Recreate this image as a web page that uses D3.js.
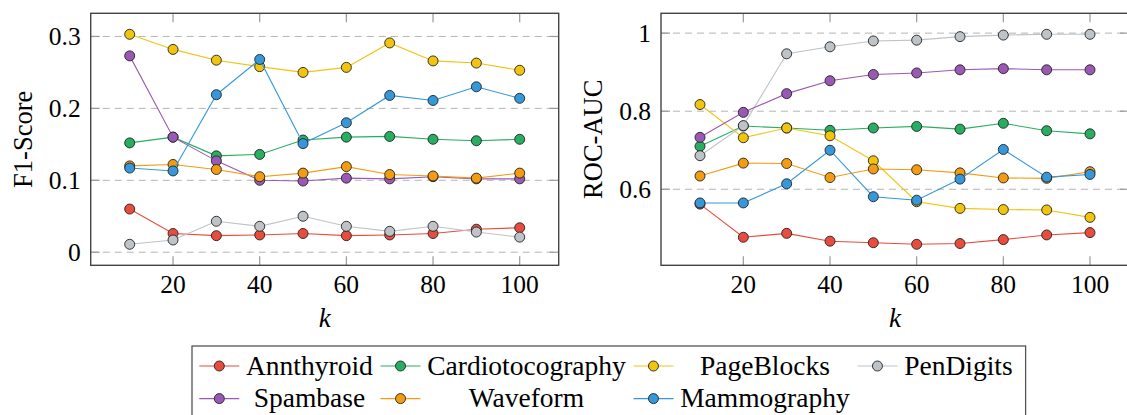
<!DOCTYPE html>
<html>
<head>
<meta charset="utf-8">
<script src="https://cdn.jsdelivr.net/npm/d3@7"></script>
<style>
  body { margin: 0; background: #fff; }
  svg { display: block; }
</style>
</head>
<body>
<div id="chart"></div>
<script>
// k values on the x axis
const kValues = [10, 20, 30, 40, 50, 60, 70, 80, 90, 100];
const xTicks = [20, 40, 60, 80, 100];
const f1Ticks = [0, 0.1, 0.2, 0.3];
const rocTicks = [0.6, 0.8, 1];

const datasets = ["Annthyroid", "Cardiotocography", "PageBlocks", "PenDigits", "Spambase", "Waveform", "Mammography"];
const colors = ["#e74c3c", "#27ae60", "#f1c40f", "#bdc3c7", "#9b59b6", "#f39c12", "#3498db"];

// F1-Score
const f1Annthyroid = [0.060, 0.026, 0.023, 0.024, 0.026, 0.023, 0.024, 0.026, 0.032, 0.034];
const f1Cardio = [0.152, 0.160, 0.134, 0.136, 0.156, 0.160, 0.161, 0.157, 0.155, 0.157];
const f1PageBlocks = [0.303, 0.282, 0.267, 0.258, 0.250, 0.257, 0.291, 0.266, 0.263, 0.253];
const f1PenDigits = [0.011, 0.017, 0.043, 0.036, 0.050, 0.036, 0.029, 0.036, 0.028, 0.021];
const f1Spambase = [0.273, 0.160, 0.127, 0.100, 0.099, 0.103, 0.102, 0.105, 0.102, 0.102];
const f1Waveform = [0.120, 0.122, 0.115, 0.105, 0.110, 0.119, 0.108, 0.106, 0.103, 0.110];
const f1Mammography = [0.117, 0.113, 0.219, 0.268, 0.151, 0.180, 0.218, 0.211, 0.230, 0.214];

// ROC-AUC
const rocAnnthyroid = [0.562, 0.477, 0.487, 0.467, 0.463, 0.459, 0.461, 0.471, 0.483, 0.489];
const rocCardio = [0.710, 0.762, 0.757, 0.751, 0.757, 0.761, 0.754, 0.769, 0.750, 0.742];
const rocPageBlocks = [0.817, 0.732, 0.757, 0.737, 0.673, 0.568, 0.551, 0.548, 0.547, 0.528];
const rocPenDigits = [0.686, 0.763, 0.947, 0.965, 0.980, 0.982, 0.991, 0.995, 0.997, 0.997];
const rocSpambase = [0.733, 0.797, 0.845, 0.878, 0.894, 0.898, 0.906, 0.909, 0.906, 0.906];
const rocWaveform = [0.634, 0.667, 0.666, 0.630, 0.652, 0.650, 0.642, 0.629, 0.628, 0.645];
const rocMammography = [0.565, 0.565, 0.614, 0.700, 0.581, 0.572, 0.626, 0.702, 0.631, 0.638];

const f1Series = [f1Annthyroid, f1Cardio, f1PageBlocks, f1PenDigits, f1Spambase, f1Waveform, f1Mammography];
const rocSeries = [rocAnnthyroid, rocCardio, rocPageBlocks, rocPenDigits, rocSpambase, rocWaveform, rocMammography];

const width = 1127, height = 415;
const fontFamily = '"Liberation Serif", "Tinos", "Times New Roman"';
const svg = d3.select("#chart").append("svg")
    .attr("width", width)
    .attr("height", height)
    .style("font-family", fontFamily);

// pgfplots style: 10% extra room on each side
const enlarge = ([lo, hi]) => [lo - (hi - lo) * 0.1, hi + (hi - lo) * 0.1];

function drawPanel(box, series, yTicks, yLabel) {
    const g = svg.append("g");
    const x = d3.scaleLinear().domain(enlarge(d3.extent(kValues))).range([box.left, box.right]);
    const y = d3.scaleLinear().domain(enlarge(d3.extent(series.flat()))).range([box.bottom, box.top]);

    // dashed grid
    g.selectAll("line.grid")
        .data(yTicks)
        .join("line")
        .attr("class", "grid")
        .attr("x1", box.left).attr("x2", box.right)
        .attr("y1", d => y(d)).attr("y2", d => y(d))
        .style("stroke", "#b4b4b4")
        .style("stroke-dasharray", "7,5");

    // ticks inside the frame
    const tickLen = 9;
    const tickStyle = sel => sel.style("stroke", "#999").style("stroke-width", 1.2);
    g.selectAll("line.xtb").data(xTicks).join("line")
        .attr("x1", d => x(d)).attr("x2", d => x(d))
        .attr("y1", box.bottom).attr("y2", box.bottom - tickLen).call(tickStyle);
    g.selectAll("line.xtt").data(xTicks).join("line")
        .attr("x1", d => x(d)).attr("x2", d => x(d))
        .attr("y1", box.top).attr("y2", box.top + tickLen).call(tickStyle);
    g.selectAll("line.ytl").data(yTicks).join("line")
        .attr("x1", box.left).attr("x2", box.left + tickLen)
        .attr("y1", d => y(d)).attr("y2", d => y(d)).call(tickStyle);
    g.selectAll("line.ytr").data(yTicks).join("line")
        .attr("x1", box.right).attr("x2", box.right - tickLen)
        .attr("y1", d => y(d)).attr("y2", d => y(d)).call(tickStyle);

    // frame
    g.append("rect")
        .attr("x", box.left).attr("y", box.top)
        .attr("width", box.right - box.left).attr("height", box.bottom - box.top)
        .style("fill", "none")
        .style("stroke", "#444")
        .style("stroke-width", 1.4);

    // tick labels
    g.selectAll("text.xt").data(xTicks).join("text")
        .attr("x", d => x(d))
        .attr("y", box.bottom + 27.5)
        .attr("text-anchor", "middle")
        .style("font-family", fontFamily)
        .style("font-size", "25.5px")
        .text(d => d);
    g.selectAll("text.yt").data(yTicks).join("text")
        .attr("x", box.left - 10)
        .attr("y", d => y(d) + 9)
        .attr("text-anchor", "end")
        .style("font-family", fontFamily)
        .style("font-size", "25.5px")
        .text(d3.format("~g"));

    // axis labels
    g.append("text")
        .attr("x", (box.left + box.right) / 2)
        .attr("y", 327)
        .attr("text-anchor", "middle")
        .style("font-family", fontFamily)
        .style("font-size", "27px")
        .style("font-style", "italic")
        .text("k");
    g.append("text")
        .attr("transform", `translate(${box.left - 59}, ${(box.top + box.bottom) / 2}) rotate(-90)`)
        .attr("text-anchor", "middle")
        .style("font-family", fontFamily)
        .style("font-size", "26.5px")
        .text(yLabel);

    // series: line then marks, one after another
    const line = d3.line().x((d, i) => x(kValues[i])).y(d => y(d));
    series.forEach((vals, si) => {
        const s = g.append("g");
        s.append("path")
            .attr("d", line(vals))
            .style("fill", "none")
            .style("stroke", colors[si])
            .style("stroke-width", 1.1);
        s.selectAll("circle").data(vals).join("circle")
            .attr("cx", (d, i) => x(kValues[i]))
            .attr("cy", d => y(d))
            .attr("r", 5)
            .style("fill", colors[si])
            .style("stroke", "#222")
            .style("stroke-width", 0.9);
    });
}

drawPanel({left: 90.7, right: 558.7, top: 13.3, bottom: 265.3}, f1Series, f1Ticks, "F1-Score");
drawPanel({left: 661, right: 1129, top: 13.3, bottom: 265.3}, rocSeries, rocTicks, "ROC-AUC");

// legend: 4 columns, 2 rows, text centred in its column
const legend = svg.append("g");
const legendFont = 27.5;
const nCols = 4;
const legLeft = 192, legTop = 346, rowH = 32.6, firstRow = 366;
const tmp = legend.append("text").style("font-family", fontFamily).style("font-size", legendFont + "px");
const textW = datasets.map(name => tmp.text(name).node().getComputedTextLength());
tmp.remove();
const colW = d3.range(nCols).map(c => d3.max(textW.filter((w, i) => i % nCols === c)));
const lineLen = 40, textGap = 6.7, colGap = 7.7, padL = 7.3, padR = 13;
const colStart = [];
colW.reduce((acc, w, c) => { colStart[c] = acc; return acc + lineLen + textGap + w + colGap; }, legLeft + padL);
const legRight = colStart[nCols - 1] + lineLen + textGap + colW[nCols - 1] + padR;

legend.append("rect")
    .attr("x", legLeft).attr("y", legTop)
    .attr("width", legRight - legLeft).attr("height", 2 * rowH + 20)
    .style("fill", "#fff")
    .style("stroke", "#555")
    .style("stroke-width", 1.3);

datasets.forEach((name, i) => {
    const c = i % nCols, r = Math.floor(i / nCols);
    const cx = colStart[c], cy = firstRow + r * rowH;
    legend.append("line")
        .attr("x1", cx).attr("x2", cx + lineLen)
        .attr("y1", cy).attr("y2", cy)
        .style("stroke", colors[i])
        .style("stroke-width", 1.1);
    legend.append("circle")
        .attr("cx", cx + lineLen / 2).attr("cy", cy).attr("r", 5)
        .style("fill", colors[i])
        .style("stroke", "#222")
        .style("stroke-width", 0.9);
    legend.append("text")
        .attr("x", cx + lineLen + textGap + colW[c] / 2)
        .attr("y", cy + 8.5)
        .attr("text-anchor", "middle")
        .style("font-family", fontFamily)
        .style("font-size", legendFont + "px")
        .text(name);
});
</script>
</body>
</html>
